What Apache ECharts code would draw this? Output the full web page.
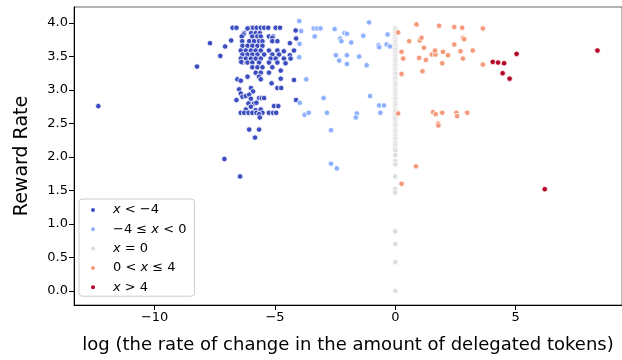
<!DOCTYPE html>
<html>
<head>
<meta charset="utf-8">
<script src="https://cdn.jsdelivr.net/npm/echarts@6/dist/echarts.min.js"></script>
<style>
  html, body { margin: 0; padding: 0; background: #fff; }
  #chart { width: 622px; height: 360px; }
</style>
</head>
<body>
<div id="chart"></div>
<script>
// groups of log change rate (x) vs reward rate (y)
const groupNames = ['x < −4', '−4 ≤ x < 0', 'x = 0', '0 < x ≤ 4', 'x > 4']
const groupColors = ['#3b4cc0', '#8db0fe', '#dddddd', '#f49a7b', '#b40426']

const ptsLtMinus4 = [
  [-12.34, 2.76], [-8.24, 3.35], [-7.70, 3.70], [-7.27, 3.51], [-7.07, 3.65], [-6.82, 3.74],
  [-6.76, 3.93], [-6.60, 3.93], [-7.10, 1.97], [-6.45, 1.71],
  [-6.00, 3.93], [-5.91, 3.93], [-5.76, 3.93], [-5.59, 3.93], [-5.45, 3.93], [-5.28, 3.93],
  [-4.97, 3.93], [-4.79, 3.93], [-6.14, 3.92],
  [-6.28, 3.85], [-5.99, 3.85], [-5.80, 3.85], [-5.63, 3.85], [-6.31, 3.83], [-4.14, 3.89],
  [-6.38, 3.80], [-5.94, 3.80], [-5.73, 3.80], [-5.59, 3.80], [-5.25, 3.80], [-5.08, 3.80],
  [-5.11, 3.78], [-4.12, 3.77],
  [-6.07, 3.73], [-5.87, 3.73], [-5.66, 3.73], [-5.52, 3.73], [-5.11, 3.73], [-4.90, 3.73],
  [-6.36, 3.73], [-4.38, 3.70],
  [-6.35, 3.66], [-6.14, 3.66], [-5.94, 3.66], [-5.73, 3.66], [-5.52, 3.66],
  [-6.42, 3.59], [-6.21, 3.59], [-6.00, 3.59], [-5.80, 3.59], [-5.59, 3.59], [-5.25, 3.59],
  [-4.90, 3.59], [-4.63, 3.58], [-4.21, 3.59],
  [-6.35, 3.53], [-6.14, 3.53], [-5.94, 3.53], [-5.73, 3.53], [-5.45, 3.53], [-5.11, 3.53],
  [-4.83, 3.53], [-4.38, 3.52],
  [-6.42, 3.47], [-6.21, 3.47], [-6.00, 3.47], [-5.80, 3.47], [-5.59, 3.47], [-5.18, 3.47],
  [-4.97, 3.47], [-4.63, 3.47], [-4.35, 3.47],
  [-6.35, 3.41], [-6.14, 3.41], [-5.94, 3.41], [-5.66, 3.41], [-5.25, 3.41], [-4.90, 3.41],
  [-4.56, 3.40], [-6.40, 3.42],
  [-5.94, 3.34], [-5.73, 3.34], [-5.52, 3.34], [-5.11, 3.34],
  [-5.80, 3.26], [-5.59, 3.26], [-5.25, 3.26], [-4.76, 3.29],
  [-6.56, 3.16], [-6.42, 3.14], [-6.14, 3.20], [-5.66, 3.20], [-5.59, 3.16], [-5.14, 3.10],
  [-4.76, 3.17], [-4.21, 3.15],
  [-6.49, 3.01], [-6.42, 2.95], [-6.00, 3.03], [-5.91, 2.98], [-4.90, 3.03], [-4.74, 3.03],
  [-6.60, 2.85], [-6.35, 2.90], [-6.21, 2.91], [-6.07, 2.93], [-6.00, 2.87], [-5.66, 2.88],
  [-5.55, 2.88], [-5.45, 2.88], [-4.12, 2.85],
  [-6.10, 2.80], [-5.87, 2.80], [-5.77, 2.81], [-6.00, 2.75], [-5.04, 2.76], [-4.86, 2.76],
  [-6.21, 2.71], [-5.80, 2.70], [-5.59, 2.71],
  [-6.42, 2.66], [-6.28, 2.66], [-6.10, 2.66], [-5.94, 2.66], [-5.77, 2.66], [-5.52, 2.66],
  [-5.25, 2.66], [-5.08, 2.66], [-4.95, 2.66], [-5.66, 2.64],
  [-5.63, 2.59], [-6.07, 2.41], [-5.66, 2.41], [-5.83, 2.29]
]

const ptsMinus4To0 = [
  [-3.99, 4.03], [-3.91, 3.88], [-3.98, 3.69], [-3.99, 3.49], [-3.70, 3.16],
  [-3.39, 3.92], [-3.25, 3.92], [-3.11, 3.92], [-3.35, 3.80], [-2.98, 2.88],
  [-3.77, 2.63], [-3.60, 2.66], [-2.84, 2.66], [-2.67, 2.40], [-2.52, 3.91],
  [-2.29, 3.77], [-2.24, 3.73], [-2.11, 3.85], [-2.01, 3.84], [-1.83, 3.71],
  [-2.47, 3.52], [-2.33, 3.44], [-2.01, 3.39], [-2.01, 3.52], [-1.50, 3.50],
  [-1.33, 3.81], [-1.19, 3.37], [-1.09, 4.01], [-1.05, 2.91], [-0.67, 2.77],
  [-0.47, 2.77], [-0.62, 2.66], [-1.60, 2.65], [-1.64, 2.59], [-0.70, 3.67],
  [-0.67, 3.64], [-0.32, 3.83], [-0.36, 3.68], [-0.22, 3.65], [-2.67, 1.90],
  [-2.43, 1.83], [-3.97, 2.81]
]

const zeroRewards = [
  3.92, 3.88, 3.85, 3.81, 3.78, 3.75, 3.72, 3.69, 3.66, 3.63, 3.60, 3.56, 3.53, 3.50,
  3.47, 3.44, 3.40, 3.37, 3.33, 3.30, 3.27, 3.24, 3.20, 3.17, 3.13, 3.10, 3.07, 3.03,
  3.00, 2.97, 2.93, 2.90, 2.87, 2.83, 2.80, 2.77, 2.73, 2.70, 2.67, 2.63, 2.60, 2.57,
  2.53, 2.50, 2.47, 2.43, 2.40, 2.37, 2.33, 2.30, 2.27, 2.23, 2.20, 2.17, 2.13, 2.10,
  2.03, 1.94, 1.89, 1.71, 1.52, 1.47, 0.89, 0.70, 0.43, 0.0
]

const pts0To4 = [
  [0.12, 3.86], [0.88, 3.98], [1.82, 3.96], [2.45, 3.94], [2.78, 3.93], [3.64, 3.92],
  [0.58, 3.73], [1.02, 3.74], [1.09, 3.78], [2.81, 3.78], [2.86, 3.76], [1.19, 3.63],
  [2.45, 3.68], [0.26, 3.57], [0.33, 3.47], [0.99, 3.48], [1.27, 3.45], [1.52, 3.53],
  [1.67, 3.53], [1.65, 3.59], [1.98, 3.57], [2.19, 3.52], [2.71, 3.58], [2.81, 3.47],
  [3.22, 3.59], [1.95, 3.40], [3.64, 3.38], [1.13, 3.28], [0.26, 3.24], [0.12, 2.65],
  [1.57, 2.67], [1.68, 2.64], [1.95, 2.66], [2.54, 2.66], [2.57, 2.61], [2.99, 2.66],
  [1.78, 2.50], [1.79, 2.47], [0.86, 1.86], [0.26, 1.60]
]

const ptsGt4 = [
  [5.04, 3.54], [4.05, 3.42], [4.27, 3.41], [4.52, 3.40], [4.46, 3.25], [4.75, 3.17],
  [8.40, 3.59], [6.21, 1.52]
]

const xTicks = [-10, -5, 0, 5]
const yTicks = [0, 0.5, 1, 1.5, 2, 2.5, 3, 3.5, 4]

const groups = [
  ptsLtMinus4,
  ptsMinus4To0,
  zeroRewards.map(v => [0, v]),
  pts0To4,
  ptsGt4
]

const legendRich = {
  'x < −4': '{i|x} < −4',
  '−4 ≤ x < 0': '−4 ≤ {i|x} < 0',
  'x = 0': '{i|x} = 0',
  '0 < x ≤ 4': '0 < {i|x} ≤ 4',
  'x > 4': '{i|x} > 4'
}

const minus = (v) => String(v).replace('-', '−')

const chart = echarts.init(document.getElementById('chart'))

chart.setOption({
  animation: false,
  textStyle: { fontFamily: 'DejaVu Sans' },
  grid: {
    left: 74, right: -3, top: 7, bottom: 55,
    show: true, borderColor: '#666', borderWidth: 1
  },
  legend: {
    orient: 'vertical',
    left: 79, top: 199,
    data: groupNames,
    icon: 'circle',
    itemWidth: 16, itemHeight: 6,
    itemGap: 1.3,
    padding: [2, 8, 0, 10],
    backgroundColor: '#fff',
    borderColor: '#cccccc', borderWidth: 1, borderRadius: 3,
    formatter: (name) => legendRich[name],
    textStyle: {
      fontSize: 13, color: '#000', lineHeight: 18, padding: [0, 0, 0, 7],
      rich: { i: { fontStyle: 'italic', fontSize: 13, color: '#000' } }
    }
  },
  xAxis: {
    type: 'value',
    min: -13.35, max: 9.42,
    name: 'log (the rate of change in the amount of delegated tokens)',
    nameLocation: 'middle', nameGap: 31,
    nameTextStyle: { fontSize: 18, color: '#000' },
    splitLine: { show: false },
    axisLine: { onZero: false, lineStyle: { color: '#000', width: 1 } },
    axisTick: { customValues: xTicks, length: 5, lineStyle: { color: '#000' } },
    axisLabel: { customValues: xTicks, fontSize: 13, color: '#000', margin: 6, formatter: minus }
  },
  yAxis: {
    type: 'value',
    min: -0.21, max: 4.24,
    name: 'Reward Rate',
    nameLocation: 'middle', nameGap: 42,
    nameTextStyle: { fontSize: 19, color: '#000' },
    splitLine: { show: false },
    axisLine: { show: true, onZero: false, lineStyle: { color: '#000', width: 1 } },
    axisTick: { show: true, customValues: yTicks, length: 5, lineStyle: { color: '#000' } },
    axisLabel: { customValues: yTicks, fontSize: 13, color: '#000', margin: 6, formatter: (v) => v.toFixed(1) }
  },
  series: groups.map((pts, i) => ({
    name: groupNames[i],
    type: 'scatter',
    data: pts,
    symbolSize: 5.5,
    itemStyle: { color: groupColors[i], borderColor: '#fff', borderWidth: 0.8, opacity: 1 },
    z: i === 2 ? 1 : 2
  }))
})
</script>
</body>
</html>
